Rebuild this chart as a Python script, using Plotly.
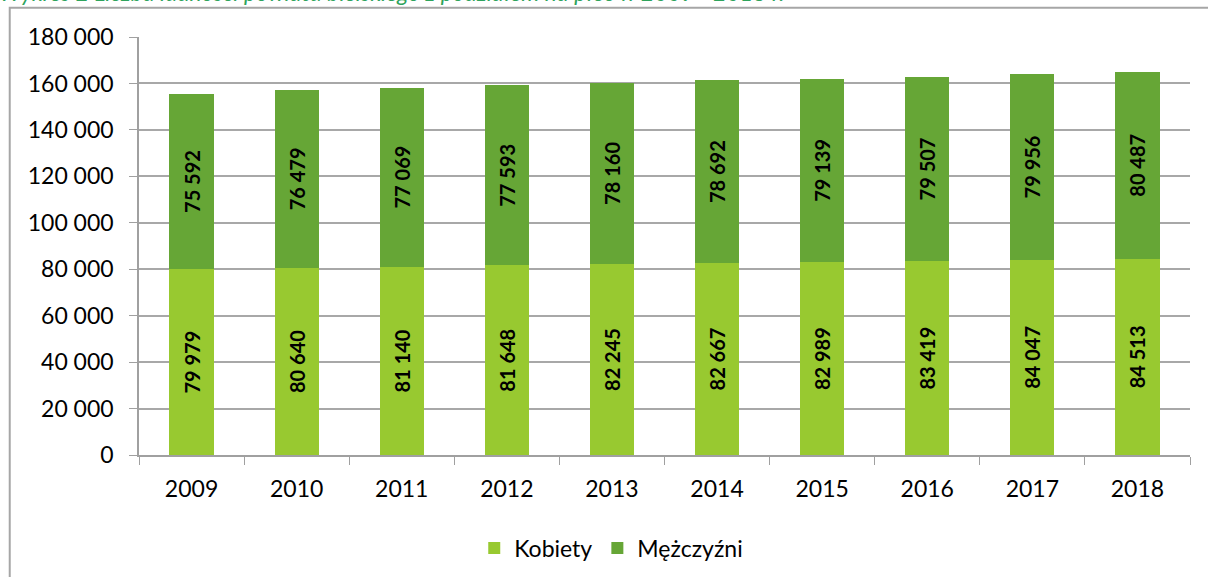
import plotly.graph_objects as go

years = ["2009", "2010", "2011", "2012", "2013", "2014", "2015", "2016", "2017", "2018"]
kobiety = [79979, 80640, 81140, 81648, 82245, 82667, 82989, 83419, 84047, 84513]
mezczyzni = [75592, 76479, 77069, 77593, 78160, 78692, 79139, 79507, 79956, 80487]

title_text = "Wykres 2 Liczba ludności powiatu bielskiego z podziałem na płeć w 2009 - 2018 r."

FONT = "Lato, Open Sans, sans-serif"


def fmt(v):
    return f"{v:,}".replace(",", " ")


fig = go.Figure()
fig.add_trace(go.Bar(
    x=years, y=kobiety, name="Kobiety",
    marker=dict(color="#98c930", line=dict(width=0)),
    text=[fmt(v) for v in kobiety], textposition="inside",
    insidetextanchor="middle", textangle=-90,
    textfont=dict(family=FONT, size=20, color="black", weight="bold"),
))
fig.add_trace(go.Bar(
    x=years, y=mezczyzni, name="Mężczyźni",
    marker=dict(color="#66a636", line=dict(width=0)),
    text=[fmt(v) for v in mezczyzni], textposition="inside",
    insidetextanchor="middle", textangle=-90,
    textfont=dict(family=FONT, size=20, color="black", weight="bold"),
))

fig.update_layout(
    width=1208, height=577,
    barmode="stack", bargap=0.58,
    separators=", ",
    plot_bgcolor="white", paper_bgcolor="white",
    margin=dict(l=139, r=18, t=37, b=122, autoexpand=False),
    font=dict(family=FONT, size=23, color="black"),
    uniformtext=dict(mode="show", minsize=10),
    legend=dict(orientation="h", xref="container", yref="container",
                x=0.506, xanchor="center", y=0.05, yanchor="middle",
                font=dict(size=23), itemwidth=30, traceorder="normal"),
    xaxis=dict(type="category", showline=True, linecolor="#a0a0a0", linewidth=1.5,
               ticks="outside", tickson="boundaries", ticklen=8, tickcolor="#a0a0a0",
               showgrid=False, ticklabelstandoff=13),
    yaxis=dict(range=[0, 180000], dtick=20000, tickformat=",d",
               showline=True, linecolor="#a0a0a0", linewidth=1.5,
               ticks="outside", ticklen=8, tickcolor="#a0a0a0",
               gridcolor="#a8a8a8", gridwidth=1.5, zeroline=False,
               ticklabelstandoff=11),
)

# chart title, partly cut off at the top edge as in the source screenshot
fig.add_annotation(
    text=title_text, xref="paper", yref="paper",
    x=-0.135, xanchor="left", y=1.108, yanchor="middle",
    showarrow=False,
    font=dict(family=FONT, size=23, color="#2ea35c", style="italic"),
)

fig.add_shape(
    type="rect", xref="paper", yref="paper",
    x0=-0.123, x1=1.03, y0=-0.35, y1=1.07,
    line=dict(color="#a6a6a6", width=2), layer="below",
)

fig.write_html("out.html", config={"displayModeBar": False},
               post_script="document.body.style.margin='0';")
